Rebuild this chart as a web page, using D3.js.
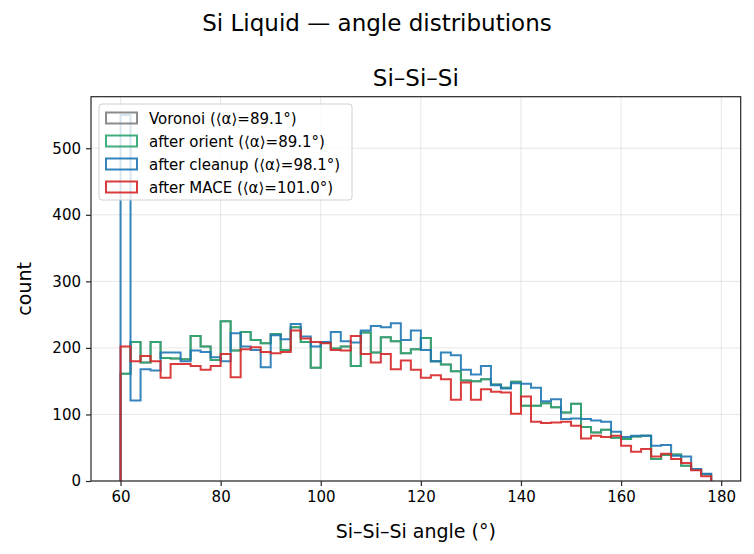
<!DOCTYPE html>
<html>
<head>
<meta charset="utf-8">
<script src="https://cdn.jsdelivr.net/npm/d3@7"></script>
<style>
  body { margin: 0; background: #fff; }
  svg text { font-family: "DejaVu Sans", sans-serif; fill: #000; }
</style>
</head>
<body>
<svg width="754" height="554"></svg>
<script>
// left edge of each 2° bin
const binStarts = [60, 62, 64, 66, 68, 70, 72, 74, 76, 78, 80, 82, 84, 86, 88, 90, 92, 94, 96, 98,
  100, 102, 104, 106, 108, 110, 112, 114, 116, 118, 120, 122, 124, 126, 128, 130, 132, 134, 136, 138,
  140, 142, 144, 146, 148, 150, 152, 154, 156, 158, 160, 162, 164, 166, 168, 170, 172, 174, 176];
const binWidth = 2;

const voronoiCounts = [161, 209, 178, 209, 185, 184, 183, 218, 202, 182, 240, 196, 224, 212, 207, 221, 197, 231, 209, 170,
  208, 199, 202, 173, 223, 193, 216, 210, 192, 198, 215, 180, 175, 165, 151, 150, 153, 145, 140, 149,
  113, 113, 117, 111, 103, 116, 81, 73, 77, 65, 63, 67, 68, 33, 39, 40, 23, 17, 10];
const orientCounts = [161, 209, 178, 209, 185, 184, 183, 218, 202, 182, 240, 196, 224, 212, 207, 221, 197, 231, 209, 170,
  208, 199, 202, 173, 223, 193, 216, 210, 192, 198, 215, 180, 175, 165, 151, 150, 153, 145, 140, 149,
  113, 113, 117, 111, 103, 116, 81, 73, 77, 65, 63, 67, 68, 33, 39, 40, 23, 17, 10];
const cleanupCounts = [550, 121, 168, 166, 193, 193, 180, 196, 194, 186, 180, 222, 202, 197, 171, 219, 213, 236, 217, 202,
  209, 224, 210, 208, 226, 233, 231, 237, 212, 226, 197, 180, 193, 189, 167, 160, 173, 144, 139, 147,
  146, 140, 120, 123, 93, 94, 93, 91, 89, 74, 66, 68, 68, 53, 54, 38, 37, 18, 11];
const maceCounts = [202, 180, 188, 180, 155, 176, 176, 173, 167, 173, 191, 156, 198, 201, 194, 192, 194, 226, 214, 209,
  207, 197, 196, 218, 191, 178, 191, 168, 181, 167, 155, 159, 153, 122, 148, 122, 138, 134, 133, 101,
  127, 89, 87, 88, 89, 83, 64, 68, 66, 68, 53, 44, 48, 37, 41, 33, 27, 16, 7];

const seriesNames = ["Voronoi (⟨α⟩=89.1°)", "after orient (⟨α⟩=89.1°)", "after cleanup (⟨α⟩=98.1°)", "after MACE (⟨α⟩=101.0°)"];
const seriesColors = ["#7f7f7f", "#2ca56f", "#1f77b4", "#d62728"];
const seriesData = [voronoiCounts, orientCounts, cleanupCounts, maceCounts];

const xTicks = [60, 80, 100, 120, 140, 160, 180];
const yTicks = [0, 100, 200, 300, 400, 500];

const svg = d3.select("svg");
const plotL = 91, plotR = 740.7, plotT = 96.7, plotB = 481;

const xLo = binStarts[0], xHi = binStarts[binStarts.length - 1] + binWidth;
const xPad = (xHi - xLo) * 0.05;
const x = d3.scaleLinear().domain([xLo - xPad, xHi + xPad]).range([plotL, plotR]);
const yMax = d3.max(seriesData, s => d3.max(s)) * 1.05;
const y = d3.scaleLinear().domain([0, yMax]).range([plotB, plotT]);

// grid
const grid = svg.append("g");
grid.selectAll(".gx").data(xTicks).enter().append("line")
  .attr("x1", d => x(d)).attr("x2", d => x(d)).attr("y1", plotT).attr("y2", plotB)
  .attr("stroke", "#b0b0b0").attr("stroke-opacity", 0.3).attr("stroke-width", 1);
grid.selectAll(".gy").data(yTicks).enter().append("line")
  .attr("x1", plotL).attr("x2", plotR).attr("y1", d => y(d)).attr("y2", d => y(d))
  .attr("stroke", "#b0b0b0").attr("stroke-opacity", 0.3).attr("stroke-width", 1);

// step outlines
function stepPoints(counts) {
  const pts = [[binStarts[0], 0]];
  counts.forEach((c, i) => {
    pts.push([binStarts[i], c]);
    pts.push([binStarts[i] + binWidth, c]);
  });
  pts.push([binStarts[binStarts.length - 1] + binWidth, 0]);
  return pts;
}
const line = d3.line().x(d => x(d[0])).y(d => y(d[1]));
svg.append("g").selectAll("path").data(seriesData).enter().append("path")
  .attr("d", d => line(stepPoints(d)))
  .attr("fill", "none")
  .attr("stroke", (d, i) => seriesColors[i])
  .attr("stroke-width", 2)
  .attr("stroke-opacity", 0.9)
  .attr("stroke-linejoin", "miter");

// axes
const xAxis = svg.append("g").attr("transform", `translate(0,${plotB})`)
  .call(d3.axisBottom(x).tickValues(xTicks).tickSize(5).tickPadding(5));
const yAxis = svg.append("g").attr("transform", `translate(${plotL},0)`)
  .call(d3.axisLeft(y).tickValues(yTicks).tickSize(5).tickPadding(5));
[xAxis, yAxis].forEach(g => {
  g.select(".domain").remove();
  g.selectAll(".tick line").attr("stroke", "#262626").attr("stroke-width", 1.2);
  g.selectAll(".tick text").attr("font-size", 15).attr("fill", "#000")
    .attr("font-family", "DejaVu Sans, sans-serif");
});

svg.append("rect")
  .attr("x", plotL).attr("y", plotT).attr("width", plotR - plotL).attr("height", plotB - plotT)
  .attr("fill", "none").attr("stroke", "#262626").attr("stroke-width", 1.2);

// labels
svg.append("text").attr("x", (plotL + plotR) / 2).attr("y", 538)
  .attr("text-anchor", "middle").attr("font-size", 19).text("Si–Si–Si angle (°)");
svg.append("text").attr("transform", `translate(31,${(plotT + plotB) / 2}) rotate(-90)`)
  .attr("text-anchor", "middle").attr("font-size", 19).text("count");
svg.append("text").attr("x", (plotL + plotR) / 2).attr("y", 86)
  .attr("text-anchor", "middle").attr("font-size", 23).text("Si–Si–Si");
svg.append("text").attr("x", 377).attr("y", 31)
  .attr("text-anchor", "middle").attr("font-size", 23).text("Si Liquid — angle distributions");

// legend
const leg = svg.append("g");
leg.append("rect").attr("x", 99).attr("y", 104).attr("width", 253).attr("height", 96)
  .attr("rx", 3).attr("fill", "#fff").attr("fill-opacity", 0.8)
  .attr("stroke", "#d0d0d0").attr("stroke-width", 1);
const rows = leg.selectAll(".row").data(seriesNames).enter().append("g")
  .attr("transform", (d, i) => `translate(0,${118 + i * 23})`);
rows.append("rect").attr("x", 106).attr("y", -5.5).attr("width", 31).attr("height", 11)
  .attr("fill", "none").attr("stroke", (d, i) => seriesColors[i])
  .attr("stroke-width", 2).attr("stroke-opacity", 0.9);
rows.append("text").attr("x", 149).attr("y", 5.5).attr("font-size", 15).text(d => d);
</script>
</body>
</html>
